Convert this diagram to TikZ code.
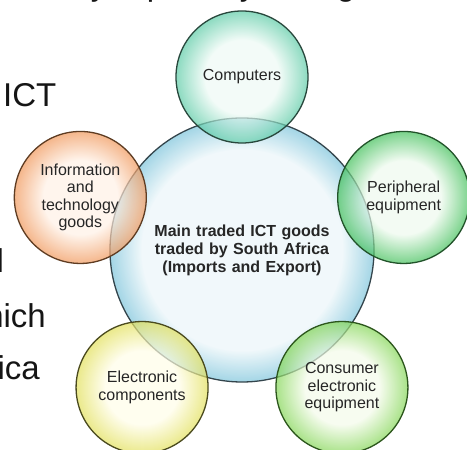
\documentclass[tikz,border=0pt]{standalone}
\usepackage{fontspec}
\setmainfont{Liberation Sans}
\usepackage{tikz}
\usetikzlibrary{shapes,arrows}
\definecolor{inktext}{HTML}{262626}
\definecolor{slidetext}{HTML}{151515}
\definecolor{hubin}{HTML}{EEF7FA}
\definecolor{hubout}{HTML}{93CEE1}
\definecolor{hubline}{HTML}{34454C}
\definecolor{compin}{HTML}{EEFAF5}
\definecolor{compout}{HTML}{5CCBA6}
\definecolor{compline}{HTML}{28473C}
\definecolor{infoin}{HTML}{FFF1E6}
\definecolor{infoout}{HTML}{F0975A}
\definecolor{infoline}{HTML}{5E3C22}
\definecolor{periin}{HTML}{EEFAEE}
\definecolor{periout}{HTML}{42C05A}
\definecolor{periline}{HTML}{22532A}
\definecolor{elecin}{HTML}{FFFDE8}
\definecolor{elecout}{HTML}{E2E05A}
\definecolor{elecline}{HTML}{4A4A1E}
\definecolor{consin}{HTML}{F4FBEA}
\definecolor{consout}{HTML}{84D656}
\definecolor{consline}{HTML}{2C561C}
\pgfdeclareradialshading{hubshade}{\pgfpointorigin}{color(0bp)=(hubin); color(19bp)=(hubin); color(25bp)=(hubout); color(50bp)=(hubout)}
\pgfdeclareradialshading{compshade}{\pgfpointorigin}{color(0bp)=(compin); color(14bp)=(compin); color(25bp)=(compout); color(50bp)=(compout)}
\pgfdeclareradialshading{infoshade}{\pgfpointorigin}{color(0bp)=(infoin); color(14bp)=(infoin); color(25bp)=(infoout); color(50bp)=(infoout)}
\pgfdeclareradialshading{perishade}{\pgfpointorigin}{color(0bp)=(periin); color(14bp)=(periin); color(25bp)=(periout); color(50bp)=(periout)}
\pgfdeclareradialshading{elecshade}{\pgfpointorigin}{color(0bp)=(elecin); color(14bp)=(elecin); color(25bp)=(elecout); color(50bp)=(elecout)}
\pgfdeclareradialshading{consshade}{\pgfpointorigin}{color(0bp)=(consin); color(14bp)=(consin); color(25bp)=(consout); color(50bp)=(consout)}
\tikzstyle{hub} = [circle, draw=hubline, line width=1.3pt, shading=hubshade,
minimum size=264pt, inner sep=0pt, text width=200pt, align=center,
font=\bfseries\fontsize{16}{18}\selectfont, text=inktext, fill opacity=0.85, text opacity=1]
\tikzstyle{bubble} = [circle, draw, line width=1.3pt, minimum size=132pt,
inner sep=0pt, text width=100pt, align=center, font=\fontsize{16}{17.5}\selectfont,
text=inktext, fill opacity=0.7, draw opacity=1, text opacity=1]
\tikzstyle{slide} = [inner sep=0pt, font=\fontsize{33}{33}\selectfont, text=slidetext]

\begin{document}
\begin{tikzpicture}[x=1pt, y=1pt]
\useasboundingbox (0,0) rectangle (467,450);
\clip (0,0) rectangle (467,450);
% Slide text cut off by the screenshot
\node [slide, anchor=base] (top1) at (99,454) {y};
\node [slide, anchor=base] (top2) at (156,454) {p};
\node [slide, anchor=base] (top3) at (248,454) {y};
\node [slide, anchor=base] (top4) at (346,454) {g};
\node [slide, anchor=base west] (ict) at (3,343) {ICT};
\node [slide, anchor=base east] (cut) at (4.2,177) {l};
\node [slide, anchor=base east] (which) at (46,122) {which};
\node [slide, anchor=base east] (africa) at (40,70) {Africa};
% Place nodes
\node [hub] (main) at (242,200) {Main traded ICT goods\\traded by South Africa\\(Imports and Export)};
\node [bubble, shading=compshade, draw=compline]
  (comp) at ([shift={(90:173)}]main) {Computers};
\node [bubble, shading=infoshade, draw=infoline]
  (info) at ([shift={(162:170)}]main) {Information\\and\\technology\\goods};
\node [bubble, shading=perishade, draw=periline]
  (peri) at ([shift={(18:170)}]main) {Peripheral\\equipment};
\node [bubble, shading=elecshade, draw=elecline]
  (elec) at ([shift={(234:170)}]main) {Electronic\\components};
\node [bubble, shading=consshade, draw=consline]
  (cons) at ([shift={(306:170)}]main) {Consumer\\electronic\\equipment};
\end{tikzpicture}
\end{document}
